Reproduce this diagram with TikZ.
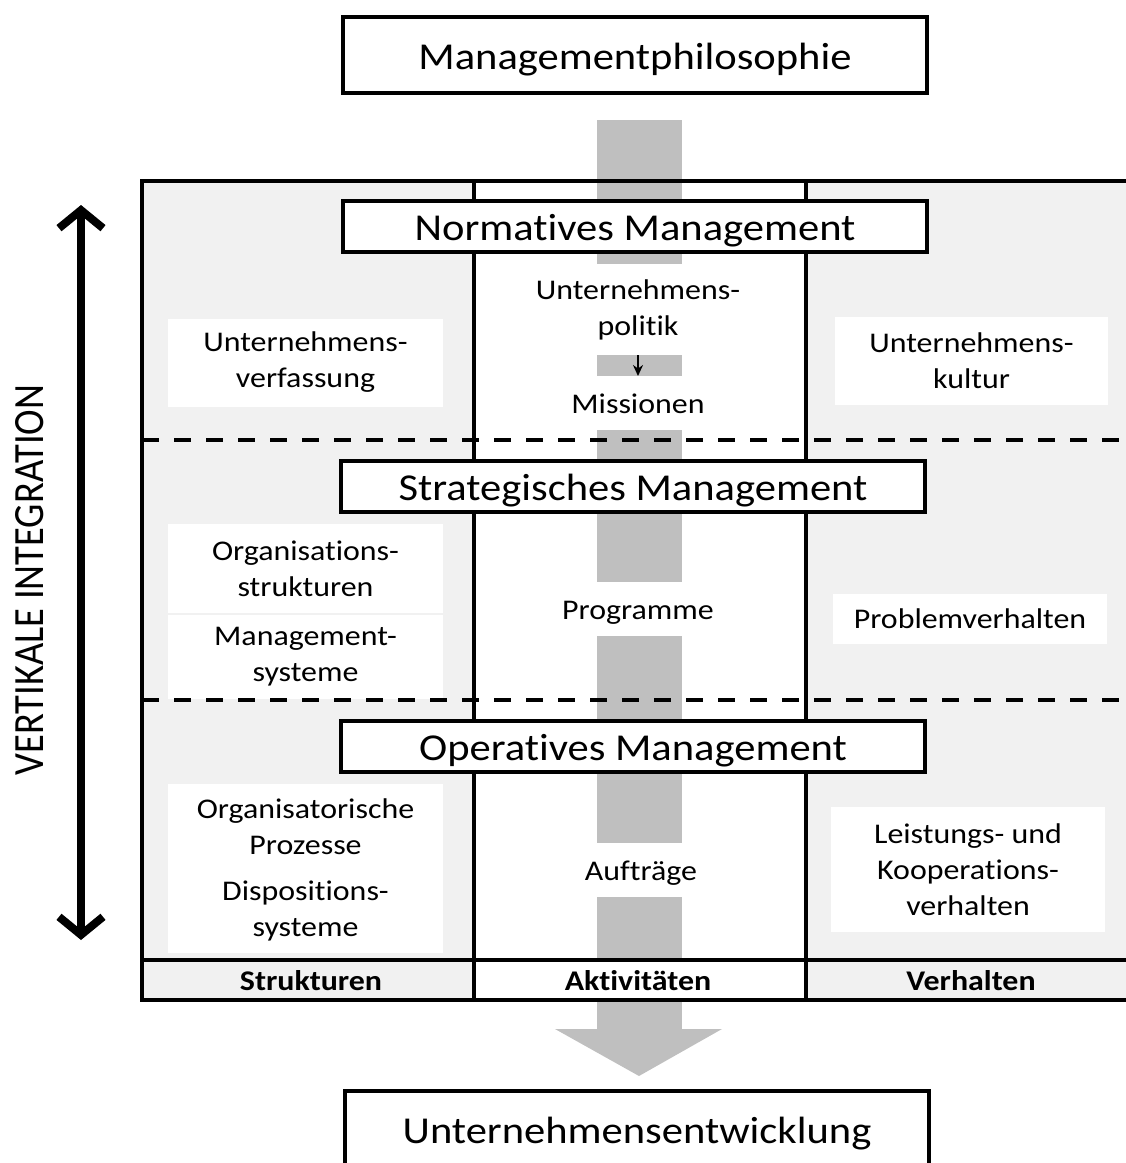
\documentclass[tikz,border=0pt]{standalone}
\usepackage{fontspec}
\setmainfont[FakeStretch=1.12, Ligatures=NoCommon]{Carlito}
\newfontfamily\sidefont[Ligatures=NoCommon]{Carlito}
\usetikzlibrary{arrows.meta}
\definecolor{panel}{HTML}{F1F1F1}
\definecolor{flow}{HTML}{BFBFBF}

\begin{document}
\begin{tikzpicture}[x=1pt,y=-1pt,
  every node/.style={inner sep=0pt, outer sep=0pt, text=black},
  levelbox/.style={draw, line width=4pt, fill=white, minimum width=584pt,
    minimum height=51pt, text height=31pt, text depth=2.6pt,
    font=\fontsize{38}{44}\selectfont},
  endbox/.style={levelbox, minimum height=76pt},
  tag/.style={fill=white, align=center, font=\fontsize{28.5}{36}\selectfont},
  oneline/.style={fill=white, text height=23.5pt, text depth=2.3pt,
    font=\fontsize{28.5}{36}\selectfont},
  colhead/.style={font=\fontsize{28.5}{34}\selectfont\bfseries},
  rule/.style={line width=4pt},
  level/.style={line width=3.5pt, dash pattern=on 17pt off 15pt},
]
\useasboundingbox (0,0) rectangle (1126,1163);
\clip (0,0) rectangle (1126,1163);

% column backgrounds
\fill[panel] (142,181) rectangle (1140,1000);
\fill[white] (474,181) rectangle (806,1000);

% central flow band with its arrow head
\fill[flow] (597,120) rectangle (682,1030);
\fill[flow] (555,1029) -- (722,1029) -- (639,1076) -- cycle;
\fill[white] (476,962) rectangle (804,998);

% text fields, left column (structures)
\node[tag, minimum width=275pt, minimum height=88pt] (verf) at (305.5,362.5)
  {Unternehmens-\\verfassung};
\node[tag, minimum width=275pt, minimum height=89pt] (orgstr) at (305.5,568.5)
  {Organisations-\\strukturen};
\node[tag, minimum width=275pt, minimum height=84pt] (mgmtsys) at (305.5,657)
  {Management-\\systeme};
\node[tag, minimum width=275pt, minimum height=86pt] (orgproz) at (305.5,826.5)
  {Organisatorische\\Prozesse};
\node[tag, minimum width=275pt, minimum height=85pt] (dispo) at (305.5,910.5)
  {Dispositions-\\systeme};

% text fields, middle column (activities)
\node[tag, minimum width=220pt, minimum height=91pt] (politik) at (638,309.5)
  {Unternehmens-\\politik};
\node[oneline, minimum width=220pt, minimum height=54pt] (missionen) at (638,403)
  {Missionen};
\node[oneline, minimum width=220pt, minimum height=54pt] (programme) at (638,609)
  {Programme};
\node[oneline, minimum width=220pt, minimum height=54pt] (auftraege) at (641,870)
  {Aufträge};
\draw[line width=2pt, -{Stealth[length=11pt,width=10pt]}]
  (politik.south -| 638,0) -- (missionen.north -| 638,0);

% text fields, right column (behaviour)
\node[tag, minimum width=273pt, minimum height=88pt] (kultur) at (971.5,360.5)
  {Unternehmens-\\kultur};
\node[tag, minimum width=274pt, minimum height=50pt] (problem) at (970,618.5)
  {Problemverhalten};
\node[tag, minimum width=274pt, minimum height=125pt] (leistung) at (968,869.5)
  {Leistungs- und\\Kooperations-\\verhalten};

% frame, column rules and level separators
\draw[rule] (142,181) rectangle (1140,1000);
\draw[rule] (474,181) -- (474,1000);
\draw[rule] (806,181) -- (806,1000);
\draw[rule] (142,960) -- (1140,960);
\draw[level] (142,440) -- (1140,440);
\draw[level] (142,700) -- (1140,700);

% management levels
\node[levelbox] (normativ) at (635,226.5) {Normatives Management};
\node[levelbox] (strategisch) at (633,486.5) {Strategisches Management};
\node[levelbox] (operativ) at (633,746) {Operatives Management};

% column headings
\node[colhead] (strukturen) at (311,981) {Strukturen};
\node[colhead] (aktivitaeten) at (638,981) {Aktivitäten};
\node[colhead] (verhalten) at (971,981) {Verhalten};

% top and bottom boxes
\node[endbox] (philosophie) at (635,55) {Managementphilosophie};
\node[endbox] (entwicklung) at (637,1129) {Unternehmensentwicklung};

% vertical integration axis
\coordinate (axtop) at (81,205);
\coordinate (axbot) at (81,940);
\draw[line width=8pt,
  {Straight Barb[length=18pt,width=44pt]}-{Straight Barb[length=18pt,width=44pt]}]
  (axbot) -- (axtop);
\node[rotate=90, font=\sidefont\fontsize{38.5}{40}\selectfont] (vint) at (30,580)
  {\scalebox{1}[1.12]{VERTIKALE INTEGRATION}};

\end{tikzpicture}
\end{document}
